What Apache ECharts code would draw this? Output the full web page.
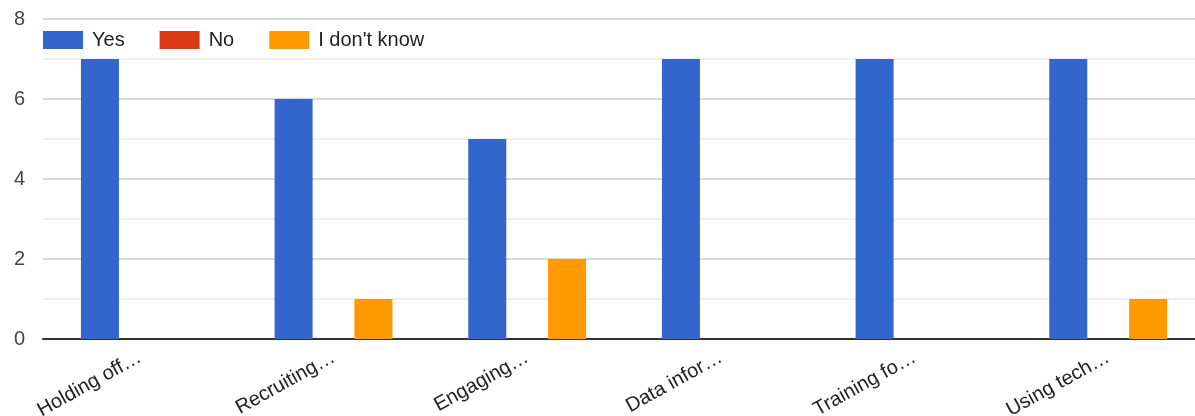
<!DOCTYPE html>
<html><head><meta charset="utf-8">
<script src="https://cdn.jsdelivr.net/npm/echarts@6/dist/echarts.min.js"></script>
<style>html,body{margin:0;padding:0;background:#fff}#c{width:1195px;height:416px}</style>
</head><body><div id="c"></div>
<script>
const categories = ["Holding off…","Recruiting…","Engaging…","Data infor…","Training fo…","Using tech…"];
const yesValues = [7, 6, 5, 7, 7, 7];
const noValues = [0, 0, 0, 0, 0, 0];
const dontKnowValues = [0, 1, 2, 0, 0, 1];
const seriesNames = ["Yes", "No", "I don't know"];
const yTicks = [0, 2, 4, 6, 8];

const font = 'Arial, "Liberation Sans", sans-serif';
const chart = echarts.init(document.getElementById('c'));
chart.setOption({
  animation: false,
  color: ['#3366cc', '#dc3912', '#ff9900'],
  legend: {
    left: 43, top: 30, padding: 0, itemWidth: 40, itemHeight: 18, itemGap: 35,
    icon: 'rect',
    textStyle: { fontFamily: font, fontSize: 20, color: '#222', padding: [0, 0, 0, 4] },
    data: seriesNames
  },
  grid: { left: 43, top: 19, width: 1162, height: 320, containLabel: false, outerBoundsMode: 'none' },
  xAxis: {
    type: 'category', data: categories,
    axisLine: { lineStyle: { color: '#333', width: 2 } },
    axisTick: { show: false },
    axisLabel: { rotate: 29, interval: 0, margin: 17, fontFamily: font, fontSize: 20, color: '#222' }
  },
  yAxis: {
    type: 'value', min: 0, max: 8, interval: 2,
    axisLine: { show: false }, axisTick: { show: false },
    axisLabel: { margin: 18, fontFamily: font, fontSize: 20, color: '#444',
      formatter: v => yTicks.includes(v) ? String(v) : '' },
    splitLine: { lineStyle: { color: '#cccccc', width: 1.5 } },
    minorTick: { show: false, splitNumber: 2 },
    minorSplitLine: { show: true, lineStyle: { color: '#ebebeb', width: 1.5 } }
  },
  series: [
    { name: seriesNames[0], type: 'bar', data: yesValues, barWidth: 38, barGap: '5%', barCategoryGap: '39%' },
    { name: seriesNames[1], type: 'bar', data: noValues, barWidth: 38, barGap: '5%' },
    { name: seriesNames[2], type: 'bar', data: dontKnowValues, barWidth: 38, barGap: '5%' }
  ]
});
</script></body></html>
